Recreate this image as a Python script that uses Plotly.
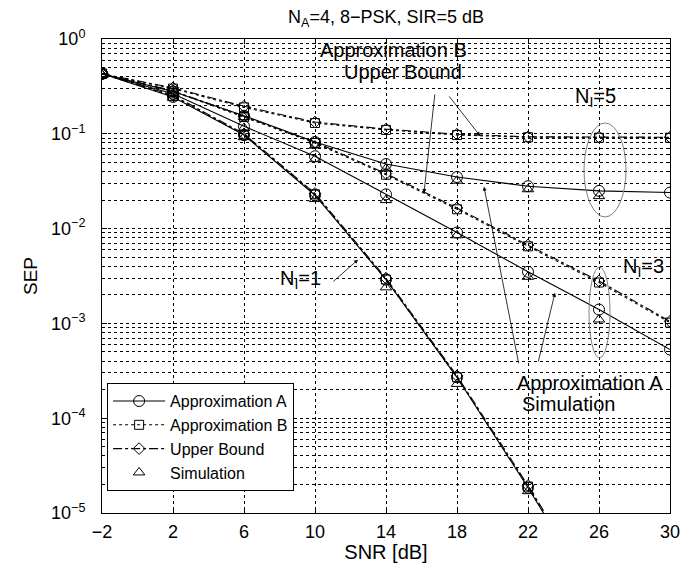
import math
import plotly.graph_objects as go

# ---------------- data ----------------
snr = [-2, 2, 6, 10, 14, 18, 22, 26, 30]
snr_sim = [-2, 2, 6, 10, 14, 18, 22, 26]

# N_I = 1
approxA_n1 = [0.43, 0.245, 0.097, 0.0225, 0.0029, 2.7e-4, 1.85e-5, 1.1e-6, 5e-8]
approxB_n1 = [0.43, 0.25, 0.098, 0.023, 0.0029, 2.7e-4, 1.9e-5, 1.15e-6, 5.5e-8]
upper_n1 = [0.43, 0.255, 0.100, 0.0235, 0.0030, 2.8e-4, 1.95e-5, 1.2e-6, 6e-8]
sim_n1 = [0.42, 0.24, 0.092, 0.0205, 0.0024, 2.3e-4, 1.7e-5]

# N_I = 3
approxA_n3 = [0.43, 0.265, 0.12, 0.058, 0.023, 0.0091, 0.0035, 0.0014, 0.00053]
approxB_n3 = [0.43, 0.28, 0.15, 0.080, 0.037, 0.016, 0.0065, 0.0027, 0.00102]
upper_n3 = [0.43, 0.285, 0.153, 0.082, 0.038, 0.0165, 0.0067, 0.0028, 0.00105]
sim_n3 = [0.42, 0.26, 0.115, 0.054, 0.020, 0.0085, 0.0031, 0.0011]

# N_I = 5
approxA_n5 = [0.43, 0.28, 0.155, 0.082, 0.048, 0.035, 0.028, 0.025, 0.024]
approxB_n5 = [0.43, 0.30, 0.19, 0.13, 0.11, 0.097, 0.092, 0.091, 0.091]
upper_n5 = [0.43, 0.305, 0.195, 0.133, 0.112, 0.099, 0.093, 0.092, 0.092]
sim_n5 = [0.42, 0.27, 0.15, 0.075, 0.043, 0.032, 0.026, 0.022]

series_names = ["Approximation A", "Approximation B", "Upper Bound", "Simulation"]
x_ticks = [-2, 2, 6, 10, 14, 18, 22, 26, 30]
y_decades = [1e-5, 1e-4, 1e-3, 1e-2, 1e-1, 1]
y_ticktext = ["10<sup>−5</sup>", "10<sup>−4</sup>", "10<sup>−3</sup>",
              "10<sup>−2</sup>", "10<sup>−1</sup>", "10<sup>0</sup>"]

FONT = "Liberation Sans, Arial, sans-serif"

fig = go.Figure()

groups = [
    (approxA_n1, approxB_n1, upper_n1, sim_n1, True),
    (approxA_n3, approxB_n3, upper_n3, sim_n3, False),
    (approxA_n5, approxB_n5, upper_n5, sim_n5, False),
]

for a, b, u, s, show in groups:
    fig.add_trace(go.Scatter(
        x=snr, y=a, mode="lines+markers", name=series_names[0],
        legendgroup="A", showlegend=show, legendrank=1,
        line=dict(color="black", width=1.1, dash="solid"),
        marker=dict(symbol="circle-open", size=11, color="black", line=dict(width=1))))
    fig.add_trace(go.Scatter(
        x=snr, y=b, mode="lines+markers", name=series_names[1],
        legendgroup="B", showlegend=show, legendrank=2,
        line=dict(color="black", width=1.1, dash="dot"),
        marker=dict(symbol="square-open", size=9, color="black", line=dict(width=1))))
    fig.add_trace(go.Scatter(
        x=snr, y=u, mode="lines+markers", name=series_names[2],
        legendgroup="U", showlegend=show, legendrank=3,
        line=dict(color="black", width=1.1, dash="dashdot"),
        marker=dict(symbol="diamond-open", size=9, color="black", line=dict(width=1))))
    fig.add_trace(go.Scatter(
        x=snr_sim[:len(s)], y=s, mode="markers", name=series_names[3],
        legendgroup="S", showlegend=show, legendrank=4,
        marker=dict(symbol="triangle-up-open", size=10, color="black", line=dict(width=1))))

# minor grid positions (2..9 of each decade)
minor_vals = []
for d in y_decades[:-1]:
    for k in range(2, 10):
        minor_vals.append(d * k)

fig.update_xaxes(
    range=[-2, 30], tickmode="array", tickvals=x_ticks,
    ticktext=[("−" + str(-v)) if v < 0 else str(v) for v in x_ticks],
    showgrid=True, gridcolor="black", griddash="dot", gridwidth=0.6,
    zeroline=False, showline=True, linecolor="black", linewidth=1, mirror="ticks",
    ticks="inside", ticklen=5, tickcolor="black", ticklabelstandoff=2,
    tickfont=dict(family=FONT, size=18, color="black"),
    title=dict(text="SNR [dB]", font=dict(family=FONT, size=20, color="black"), standoff=5),
)
fig.update_yaxes(
    type="log", range=[-5, 0], tickmode="array", tickvals=y_decades, ticktext=y_ticktext,
    showgrid=True, gridcolor="black", griddash="dot", gridwidth=0.6,
    zeroline=False, showline=True, linecolor="black", linewidth=1, mirror="ticks",
    ticks="inside", ticklen=5, tickcolor="black", ticklabelstandoff=12,
    tickfont=dict(family=FONT, size=18, color="black"),
    minor=dict(tickmode="array", tickvals=minor_vals, showgrid=True, gridcolor="black",
               griddash="dot", gridwidth=0.6, ticks="inside", ticklen=3, tickcolor="black"),
    title=dict(text="SEP", font=dict(family=FONT, size=19, color="black"), standoff=8),
)

ann_font = dict(family=FONT, size=20, color="black")
annotations = [
    dict(x=14.45, y=-0.113, text="Approximation B", showarrow=False, font=ann_font),
    dict(x=14.93, y=-0.345, text="Upper Bound", showarrow=False, font=ann_font),
    dict(x=25.83, y=-0.621, text="N<sub>I</sub>=5", showarrow=False, font=ann_font),
    dict(x=28.48, y=-2.415, text="N<sub>I</sub>=3", showarrow=False, font=ann_font),
    dict(x=9.21, y=-2.54, text="N<sub>I</sub>=1", showarrow=False, font=ann_font),
    dict(x=21.27, y=-3.63, text="Approximation A", showarrow=False, xanchor="left", font=ann_font),
    dict(x=21.55, y=-3.85, text="Simulation", showarrow=False, xanchor="left", font=ann_font),
]
arrows = [
    (16.14, 0.0238, 11, -100),
    (19.3, 0.095, -32, -41),
    (19.52, 0.0276, 35, 178),
    (23.52, 0.0021, -17, 70),
    (12.42, 0.0047, -26, 23),
]
for x, y, ax, ay in arrows:
    annotations.append(dict(x=x, y=math.log10(y), ax=ax, ay=ay, text="", showarrow=True,
                            arrowhead=2, arrowsize=1, arrowwidth=0.8, arrowcolor="black"))

shapes = [
    dict(type="circle", xref="paper", yref="paper", x0=0.8486, x1=0.9225, y0=0.6245, y1=0.8228,
         line=dict(color="gray", width=1)),
    dict(type="circle", xref="paper", yref="paper", x0=0.8574, x1=0.8944, y0=0.327, y1=0.519,
         line=dict(color="gray", width=1)),
]

# The page body has an 8 px margin, so the figure is sized/offset accordingly.
fig.update_layout(
    width=675, height=555,
    margin=dict(l=94, r=13, t=31, b=50, autoexpand=False),
    paper_bgcolor="white", plot_bgcolor="white",
    font=dict(family=FONT, color="black"),
    title=dict(text="N<sub>A</sub>=4, 8−PSK, SIR=5 dB", x=(386 - 8) / 675, xanchor="center",
               y=1 - 9 / 555, yanchor="middle", yref="container",
               font=dict(family=FONT, size=18, color="black")),
    legend=dict(x=0.009, y=0.274, xanchor="left", yanchor="top",
                bgcolor="white", bordercolor="black", borderwidth=1, itemwidth=52,
                font=dict(family=FONT, size=16, color="black"), tracegroupgap=0),
    annotations=annotations,
    shapes=shapes,
    showlegend=True,
)

fig.write_html("out.html")
